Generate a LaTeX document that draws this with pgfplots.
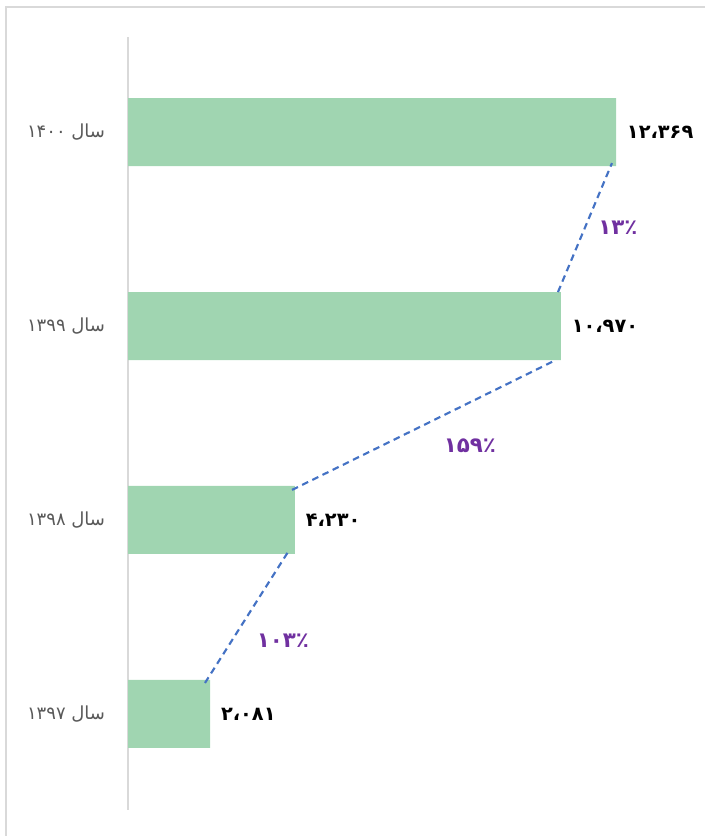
\documentclass[border=0pt]{standalone}
\usepackage{fontspec}
\usepackage{pgfplots}
\pgfplotsset{compat=1.18}
\TeXXeTstate=1
\newfontfamily\arabicfont[Script=Arabic]{DejaVu Sans}
\definecolor{bargreen}{RGB}{160,213,177}
\definecolor{pctpurple}{RGB}{112,48,160}
\definecolor{catgray}{RGB}{89,89,89}
\definecolor{linegray}{RGB}{217,217,217}
\definecolor{dashblue}{RGB}{68,114,196}

\begin{document}
\begin{tikzpicture}
% canvas and outer frame
\path[use as bounding box] (0pt,0pt) rectangle (528.75pt,627pt);
\draw[linegray, line width=1.2pt] (4.5pt,0pt) -- (4.5pt,621.75pt) -- (528.75pt,621.75pt);

\begin{axis}[
    at={(96pt,19.5pt)}, anchor=south west,
    scale only axis,
    width=429.1pt, height=579.75pt,
    xmin=0, xmax=14500,
    ymin=-0.495, ymax=3.49,
    axis x line=none,
    axis y line*=left,
    y axis line style={draw=linegray, line width=1.2pt, -},
    ytick={0,1,2,3},
    ytick style={draw=none},
    yticklabels={
        {\beginR سال \beginL۱۳۹۷\endL\endR},
        {\beginR سال \beginL۱۳۹۸\endL\endR},
        {\beginR سال \beginL۱۳۹۹\endL\endR},
        {\beginR سال \beginL۱۴۰۰\endL\endR}},
    yticklabel style={anchor=east, inner sep=0pt, xshift=-17pt,
        font=\arabicfont\fontsize{13.5}{15}\selectfont, text=catgray},
    clip=false,
]
% bars with value labels
\addplot[xbar, bar width=51pt, bar shift=0pt, fill=bargreen, draw=none,
    point meta=explicit symbolic, nodes near coords,
    every node near coord/.append style={anchor=west, inner sep=0pt, xshift=8pt,
        font=\arabicfont\bfseries\fontsize{14.5}{16}\selectfont, text=black}]
    coordinates {
        (2081,0) [۲،۰۸۱]
        (4230,1) [۴،۲۳۰]
        (10970,2) [۱۰،۹۷۰]
        (12369,3) [۱۲،۳۶۹]
    };

% dashed growth connectors
\addplot[dashblue, line width=1.6pt, dash pattern=on 5pt off 3.5pt]
    coordinates {(1951,0.16) (4055,0.835)};
\addplot[dashblue, line width=1.6pt, dash pattern=on 5pt off 3.5pt]
    coordinates {(4156,1.155) (10846,1.825)};
\addplot[dashblue, line width=1.6pt, dash pattern=on 5pt off 3.5pt]
    coordinates {(10897,2.175) (12266,2.84)};

% growth percentages
\addplot[only marks, mark=none, point meta=explicit symbolic, nodes near coords,
    every node near coord/.append style={anchor=center, inner sep=0pt,
        font=\arabicfont\bfseries\fontsize{16}{18}\selectfont, text=pctpurple}]
    coordinates {
        (3928,0.376) [۱۰۳٪]
        (8667,1.381) [۱۵۹٪]
        (12418,2.505) [۱۳٪]
    };
\end{axis}
\end{tikzpicture}
\end{document}
